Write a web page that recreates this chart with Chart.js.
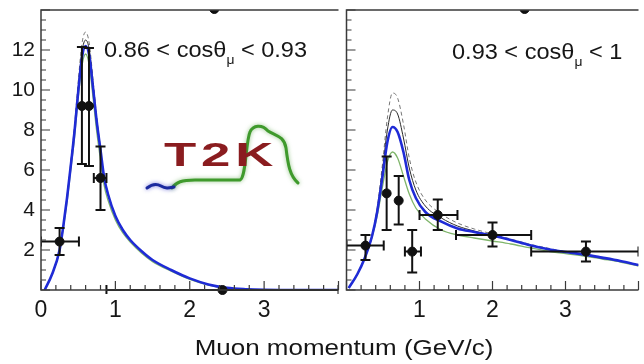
<!DOCTYPE html>
<html>
<head>
<meta charset="utf-8">
<script src="https://cdn.jsdelivr.net/npm/chart.js@4.4.0/dist/chart.umd.min.js"></script>
<style>
  body { margin: 0; background: #fff; }
  #wrap { position: relative; width: 644px; height: 364px; overflow: hidden; font-family: "Liberation Sans", Arial, sans-serif; color: #161616; }
  canvas { position: absolute; top: 0; }
  #cLeft { left: 0; }
  #cRight { left: 341px; }
  .txt { position: absolute; white-space: nowrap; font-size: 22px; line-height: 22px; }
  .ann { transform-origin: left top; transform: scaleX(1.07); }
  .ann span { font-size: 13px; position: relative; top: 7px; }
  #xtitle { left: 344px; top: 337px; transform: translateX(-50%) scaleX(1.18); }
  #logo { left: 164px; top: 138px; font-size: 33px; line-height: 33px; font-weight: bold; color: #8a1c1f; letter-spacing: 3px; transform-origin: left top; transform: scaleX(1.6); }
</style>
</head>
<body>
<div id="wrap">
  <canvas id="cLeft" width="344" height="364"></canvas>
  <canvas id="cRight" width="303" height="364"></canvas>
  <div class="txt ann" style="left:104px; top:39px">0.86 &lt; cosθ<span>μ</span> &lt; 0.93</div>
  <div class="txt ann" style="left:452px; top:41px">0.93 &lt; cosθ<span>μ</span> &lt; 1</div>
  <div class="txt" id="logo">T2K</div>
  <div class="txt" id="xtitle">Muon momentum (GeV/c)</div>
</div>
<script>
// tick labels
const yTickLabels = ['', '2', '4', '6', '8', '10', '12', ''];
const xTickLabelsLeft = ['0', '1', '2', '3', ''];
const xTickLabelsRight = ['', '1', '2', '3', ''];

// left panel, 0.86 < cos < 0.93 : predictions
const leftP = [0.05, 0.15, 0.25, 0.3, 0.35, 0.4, 0.45, 0.5, 0.55, 0.6, 0.65, 0.7, 0.75, 0.8, 0.85, 0.9, 1.0, 1.1, 1.2, 1.35, 1.5, 1.75, 2.0, 2.25, 2.5, 2.75, 3.0, 3.5, 4.0];
const leftBlue   = [0, 0.8, 2.0, 3.2, 4.6, 6.2, 7.9, 9.9, 11.6, 12.2, 11.7, 10.1, 8.4, 7.0, 5.6, 4.8, 3.7, 3.0, 2.5, 1.95, 1.5, 1.0, 0.58, 0.28, 0.11, 0.04, 0.01, 0, 0];
const leftBlack  = [0, 0.8, 2.0, 3.2, 4.6, 6.3, 8.0, 10.1, 11.9, 12.5, 12.0, 10.3, 8.5, 7.0, 5.6, 4.8, 3.7, 3.0, 2.5, 1.95, 1.5, 1.0, 0.58, 0.28, 0.11, 0.04, 0.01, 0, 0];
const leftDashed = [0, 0.8, 2.0, 3.2, 4.7, 6.4, 8.2, 10.4, 12.3, 12.9, 12.3, 10.5, 8.6, 7.1, 5.7, 4.85, 3.75, 3.05, 2.5, 1.95, 1.5, 1.0, 0.58, 0.28, 0.11, 0.04, 0.01, 0, 0];
const leftGreen  = [0, 0.8, 1.95, 3.1, 4.4, 6.0, 7.6, 9.6, 11.2, 11.8, 11.2, 9.6, 7.9, 6.5, 5.2, 4.5, 3.5, 2.85, 2.4, 1.85, 1.42, 0.94, 0.53, 0.25, 0.09, 0.03, 0.01, 0, 0];

// left panel data points
const leftPtX   = [0.25, 0.55, 0.645, 0.8, 2.44, 2.33];
const leftPtY   = [2.42, 9.2, 9.2, 5.6, 0, 14.05];
const leftPtXLo = [0, 0.55, 0.645, 0.71, 0.88, 2.33];
const leftPtXHi = [0.51, 0.55, 0.645, 0.88, 4.0, 2.33];
const leftPtYLo = [1.75, 6.3, 6.2, 4.0, 0, 14.05];
const leftPtYHi = [3.1, 12.15, 12.1, 7.17, 0, 14.05];

// right panel, 0.93 < cos < 1 : predictions
const rightP = [0.03, 0.15, 0.25, 0.35, 0.42, 0.49, 0.56, 0.63, 0.7, 0.78, 0.86, 0.95, 1.08, 1.3, 1.52, 1.75, 2.0, 2.25, 2.5, 2.75, 3.0, 3.25, 3.5, 3.75, 4.0];
const rightBlue   = [0.1, 0.8, 1.6, 2.7, 3.9, 5.6, 7.4, 8.15, 7.9, 6.9, 5.5, 4.6, 3.9, 3.42, 3.08, 2.9, 2.72, 2.5, 2.25, 2.05, 1.9, 1.78, 1.62, 1.45, 1.25];
const rightBlack  = [0.1, 0.8, 1.6, 2.7, 4.0, 5.9, 8.0, 9.0, 8.8, 7.6, 6.1, 5.0, 4.2, 3.6, 3.2, 2.95, 2.72, 2.5, 2.25, 2.05, 1.9, 1.75, 1.6, 1.45, 1.25];
const rightDashed = [0.1, 0.8, 1.6, 2.75, 4.1, 6.2, 8.6, 9.85, 9.6, 8.3, 6.6, 5.4, 4.5, 3.8, 3.35, 3.05, 2.8, 2.55, 2.3, 2.1, 1.92, 1.77, 1.62, 1.45, 1.25];
const rightGreen  = [0.1, 0.8, 1.6, 2.65, 3.7, 5.1, 6.4, 6.9, 6.6, 5.7, 4.8, 4.1, 3.55, 3.0, 2.75, 2.6, 2.45, 2.3, 2.12, 1.95, 1.82, 1.7, 1.55, 1.4, 1.2];

// right panel data points
const rightPtX   = [0.26, 0.55, 0.715, 0.9, 1.25, 2.0, 3.28, 2.44];
const rightPtY   = [2.22, 4.83, 4.47, 1.92, 3.75, 2.75, 1.92, 14.05];
const rightPtXLo = [0, 0.55, 0.715, 0.8, 1.0, 1.5, 2.53, 2.44];
const rightPtXHi = [0.51, 0.55, 0.715, 1.02, 1.52, 2.53, 4.0, 2.44];
const rightPtYLo = [1.5, 3.0, 3.28, 0.87, 3.0, 2.17, 1.42, 14.05];
const rightPtYHi = [2.75, 6.67, 5.7, 3.0, 4.53, 3.37, 2.42, 14.05];

const frameTicks = {
  id: 'frameTicks',
  afterDraw(chart) {
    const {ctx, chartArea: a, scales: {x, y}} = chart;
    ctx.save();
    ctx.strokeStyle = '#3a3a3a';
    ctx.lineWidth = 1.5;
    ctx.beginPath();
    ctx.moveTo(a.right, a.top);
    ctx.lineTo(a.left, a.top);
    ctx.lineTo(a.left, a.bottom);
    ctx.lineTo(a.right, a.bottom);
    ctx.stroke();
    ctx.lineWidth = 1.2;
    ctx.beginPath();
    for (let v = x.min; v <= x.max + 1e-6; v += 0.2) {
      const px = x.getPixelForValue(v);
      const len = Math.abs(v - Math.round(v)) < 1e-6 ? 9 : 5;
      ctx.moveTo(px, a.bottom);
      ctx.lineTo(px, a.bottom - len);
    }
    for (let v = y.min; v <= y.max + 1e-6; v += 0.5) {
      const py = y.getPixelForValue(v);
      const len = Math.abs(v / 2 - Math.round(v / 2)) < 1e-6 ? 9 : 5;
      ctx.moveTo(a.left, py);
      ctx.lineTo(a.left + len, py);
    }
    ctx.stroke();
    ctx.restore();
  }
};

const errBars = {
  id: 'errBars',
  afterDatasetsDraw(chart) {
    const {ctx, chartArea: a, scales: {x, y}} = chart;
    ctx.save();
    ctx.beginPath();
    ctx.rect(a.left, a.top, a.right - a.left, a.bottom - a.top + 4);
    ctx.clip();
    ctx.strokeStyle = '#111';
    ctx.lineWidth = 2;
    chart.data.datasets.forEach(ds => {
      if (!ds.err) return;
      ds.err.forEach(e => {
        const x0 = x.getPixelForValue(e.xlo), x1 = x.getPixelForValue(e.xhi);
        const y0 = y.getPixelForValue(e.ylo), y1 = y.getPixelForValue(e.yhi);
        const px = x.getPixelForValue(e.x), py = y.getPixelForValue(e.y);
        ctx.beginPath();
        if (e.yhi > e.ylo) {
          ctx.moveTo(px, y0); ctx.lineTo(px, y1);
          ctx.moveTo(px - 5, y0); ctx.lineTo(px + 5, y0);
          ctx.moveTo(px - 5, y1); ctx.lineTo(px + 5, y1);
        }
        if (e.xhi > e.xlo) {
          ctx.moveTo(x0, py); ctx.lineTo(x1, py);
          ctx.moveTo(x0, py - 5); ctx.lineTo(x0, py + 5);
          ctx.moveTo(x1, py - 5); ctx.lineTo(x1, py + 5);
        }
        ctx.stroke();
      });
    });
    ctx.restore();
  }
};

// the wavy line under the T2K letters
const logoWave = {
  id: 'logoWave',
  beforeDatasetsDraw(chart) {
    const ctx = chart.ctx;
    ctx.save();
    ctx.lineCap = 'round';
    ctx.lineJoin = 'round';
    ctx.shadowColor = 'rgba(80,160,60,0.6)';
    ctx.shadowBlur = 4;
    ctx.strokeStyle = '#3f9a2c';
    ctx.lineWidth = 3;
    ctx.beginPath();
    ctx.moveTo(172, 188);
    ctx.bezierCurveTo(176, 182, 182, 180, 195, 180);
    ctx.lineTo(240, 180);
    ctx.bezierCurveTo(246, 178, 246, 140, 250, 132);
    ctx.bezierCurveTo(253, 125, 262, 124, 268, 131);
    ctx.bezierCurveTo(276, 136, 284, 136, 286, 148);
    ctx.bezierCurveTo(288, 165, 290, 176, 298, 183);
    ctx.stroke();
    ctx.shadowColor = 'rgba(40,40,200,0.6)';
    ctx.strokeStyle = '#1c2a9e';
    ctx.beginPath();
    ctx.moveTo(147, 188);
    ctx.bezierCurveTo(152, 184, 156, 183, 161, 186);
    ctx.bezierCurveTo(166, 189, 169, 188, 174, 187);
    ctx.stroke();
    ctx.restore();
  }
};

function curve(px, py, color, width, dash) {
  return {
    data: px.map((v, i) => ({x: v, y: py[i]})),
    showLine: true,
    borderColor: color,
    borderWidth: width,
    borderDash: dash || [],
    pointRadius: 0,
    cubicInterpolationMode: 'monotone',
    clip: 0
  };
}

function points(px, py, xlo, xhi, ylo, yhi) {
  return {
    data: px.map((v, i) => ({x: v, y: py[i]})),
    err: px.map((v, i) => ({x: v, y: py[i], xlo: xlo[i], xhi: xhi[i], ylo: ylo[i], yhi: yhi[i]})),
    showLine: false,
    pointRadius: 4.5,
    pointBackgroundColor: '#111',
    pointBorderColor: '#111',
    clip: {top: 0, left: 0, right: 0, bottom: 8}
  };
}

const fontFamily = '"Liberation Sans", Arial, sans-serif';

function makePanel(id, datasets, xLabels, showY, plugins, pad) {
  new Chart(document.getElementById(id), {
    type: 'scatter',
    data: {datasets: datasets},
    options: {
      responsive: false,
      animation: false,
      layout: {padding: pad},
      plugins: {legend: {display: false}, tooltip: {enabled: false}},
      scales: {
        x: {
          type: 'linear', min: 0, max: 4,
          grid: {display: false, drawTicks: false},
          border: {display: false},
          ticks: {
            stepSize: 1, padding: 7, color: '#161616', maxRotation: 0,
            font: {family: fontFamily, size: 23},
            callback: (v, i) => xLabels[i]
          },
          afterFit: s => { s.height = 74; s.paddingLeft = 0; s.paddingRight = 0; }
        },
        y: {
          display: showY,
          min: 0, max: 14,
          grid: {display: false, drawTicks: false},
          border: {display: false},
          ticks: {
            stepSize: 2, padding: 6, color: '#161616',
            font: {family: fontFamily, size: 21},
            callback: (v, i) => yTickLabels[i]
          },
          afterFit: s => { s.width = showY ? 41 : 0; s.paddingTop = 0; s.paddingBottom = 0; }
        }
      }
    },
    plugins: plugins
  });
}

makePanel('cLeft', [
  points(leftPtX, leftPtY, leftPtXLo, leftPtXHi, leftPtYLo, leftPtYHi),
  curve(leftP, leftBlue, '#1f2bd6', 2.6),
  curve(leftP, leftBlack, '#2a2a2a', 1),
  curve(leftP, leftDashed, '#777', 1, [4, 3]),
  curve(leftP, leftGreen, '#7fb56a', 1.3)
], xTickLabelsLeft, true, [logoWave, errBars, frameTicks], {top: 10, right: 1, left: 0, bottom: 0});

makePanel('cRight', [
  points(rightPtX, rightPtY, rightPtXLo, rightPtXHi, rightPtYLo, rightPtYHi),
  curve(rightP, rightBlue, '#1f2bd6', 2.6),
  curve(rightP, rightBlack, '#2a2a2a', 1),
  curve(rightP, rightDashed, '#777', 1, [4, 3]),
  curve(rightP, rightGreen, '#7fb56a', 1.3)
], xTickLabelsRight, false, [errBars, frameTicks], {top: 10, right: 0, left: 2, bottom: 0});
</script>
</body>
</html>
